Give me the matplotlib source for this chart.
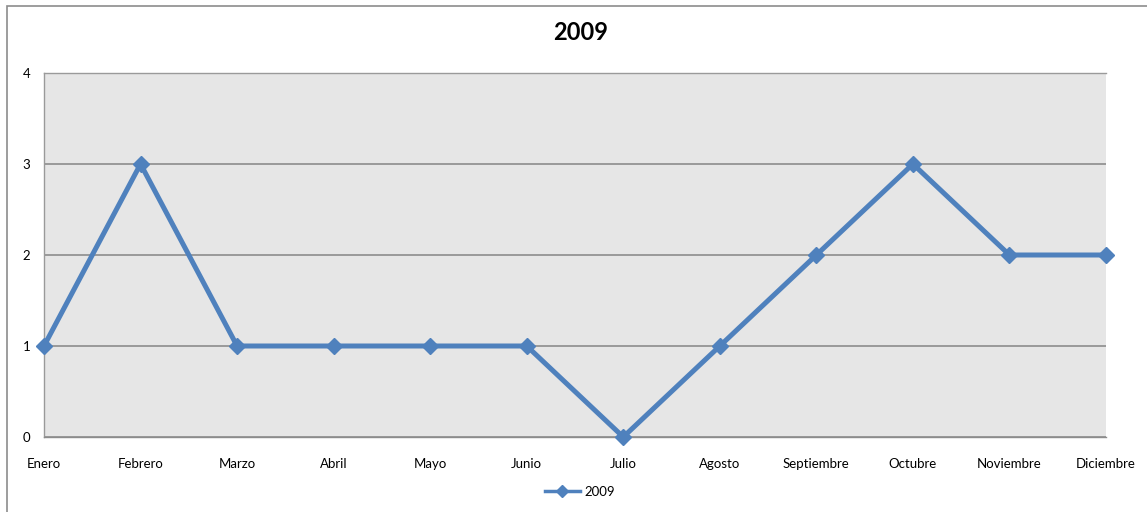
import matplotlib.pyplot as plt
from matplotlib.patches import Rectangle
from matplotlib.lines import Line2D

plt.rcParams['font.family'] = ['Lato', 'DejaVu Sans']

# ---------- Data ----------
meses = ["Enero", "Febrero", "Marzo", "Abril", "Mayo", "Junio", "Julio",
         "Agosto", "Septiembre", "Octubre", "Noviembre", "Diciembre"]
valores_2009 = [1, 3, 1, 1, 1, 1, 0, 1, 2, 3, 2, 2]
y_ticks = [0, 1, 2, 3, 4]

azul = "#4F81BD"

fig = plt.figure(figsize=(11.47, 5.12), dpi=100)
ax = fig.add_axes([44 / 1147, 1 - 437 / 512, (1106 - 44) / 1147, (437 - 73) / 512])

# chart area border
fig.patches.append(Rectangle((7.5 / 1147, -0.1), 1.2, 1 - 5.5 / 512 + 0.1,
                             transform=fig.transFigure, fill=False,
                             edgecolor="#8C8C8C", linewidth=1.2))

ax.set_facecolor("#E6E6E6")
x = list(range(len(meses)))
ax.plot(x, valores_2009, color=azul, linewidth=3.6, marker="D", markersize=8,
        label="2009", clip_on=False, zorder=3)

ax.set_xlim(0, len(meses) - 1)
ax.set_ylim(0, 4)
ax.set_yticks(y_ticks)
ax.set_xticks(x)
ax.set_xticklabels(meses, fontsize=9.5)
ax.tick_params(axis="y", labelsize=9.5, length=0, pad=10)
ax.tick_params(axis="x", length=0, pad=15)
ax.grid(axis="y", color="#8C8C8C", linewidth=1.2)
ax.set_axisbelow(True)
for side in ["left", "top"]:
    ax.spines[side].set_color("#9A9A9A")
ax.spines["bottom"].set_color("#8C8C8C")
ax.spines["right"].set_visible(False)
for s in ax.spines.values():
    s.set_linewidth(1.0)

fig.text(0.506, 1 - 33 / 512, "2009", ha="center", va="center",
         fontsize=17, fontweight="bold")

proxy = Line2D([], [], color=azul, linewidth=2.5, marker="D", markersize=6)
fig.legend([proxy], ["2009"], loc="center", bbox_to_anchor=(0.506, 1 - 492 / 512),
           frameon=False, fontsize=9.5, handlelength=2.6, handletextpad=0.4)

fig.savefig("out.png", dpi=100)
